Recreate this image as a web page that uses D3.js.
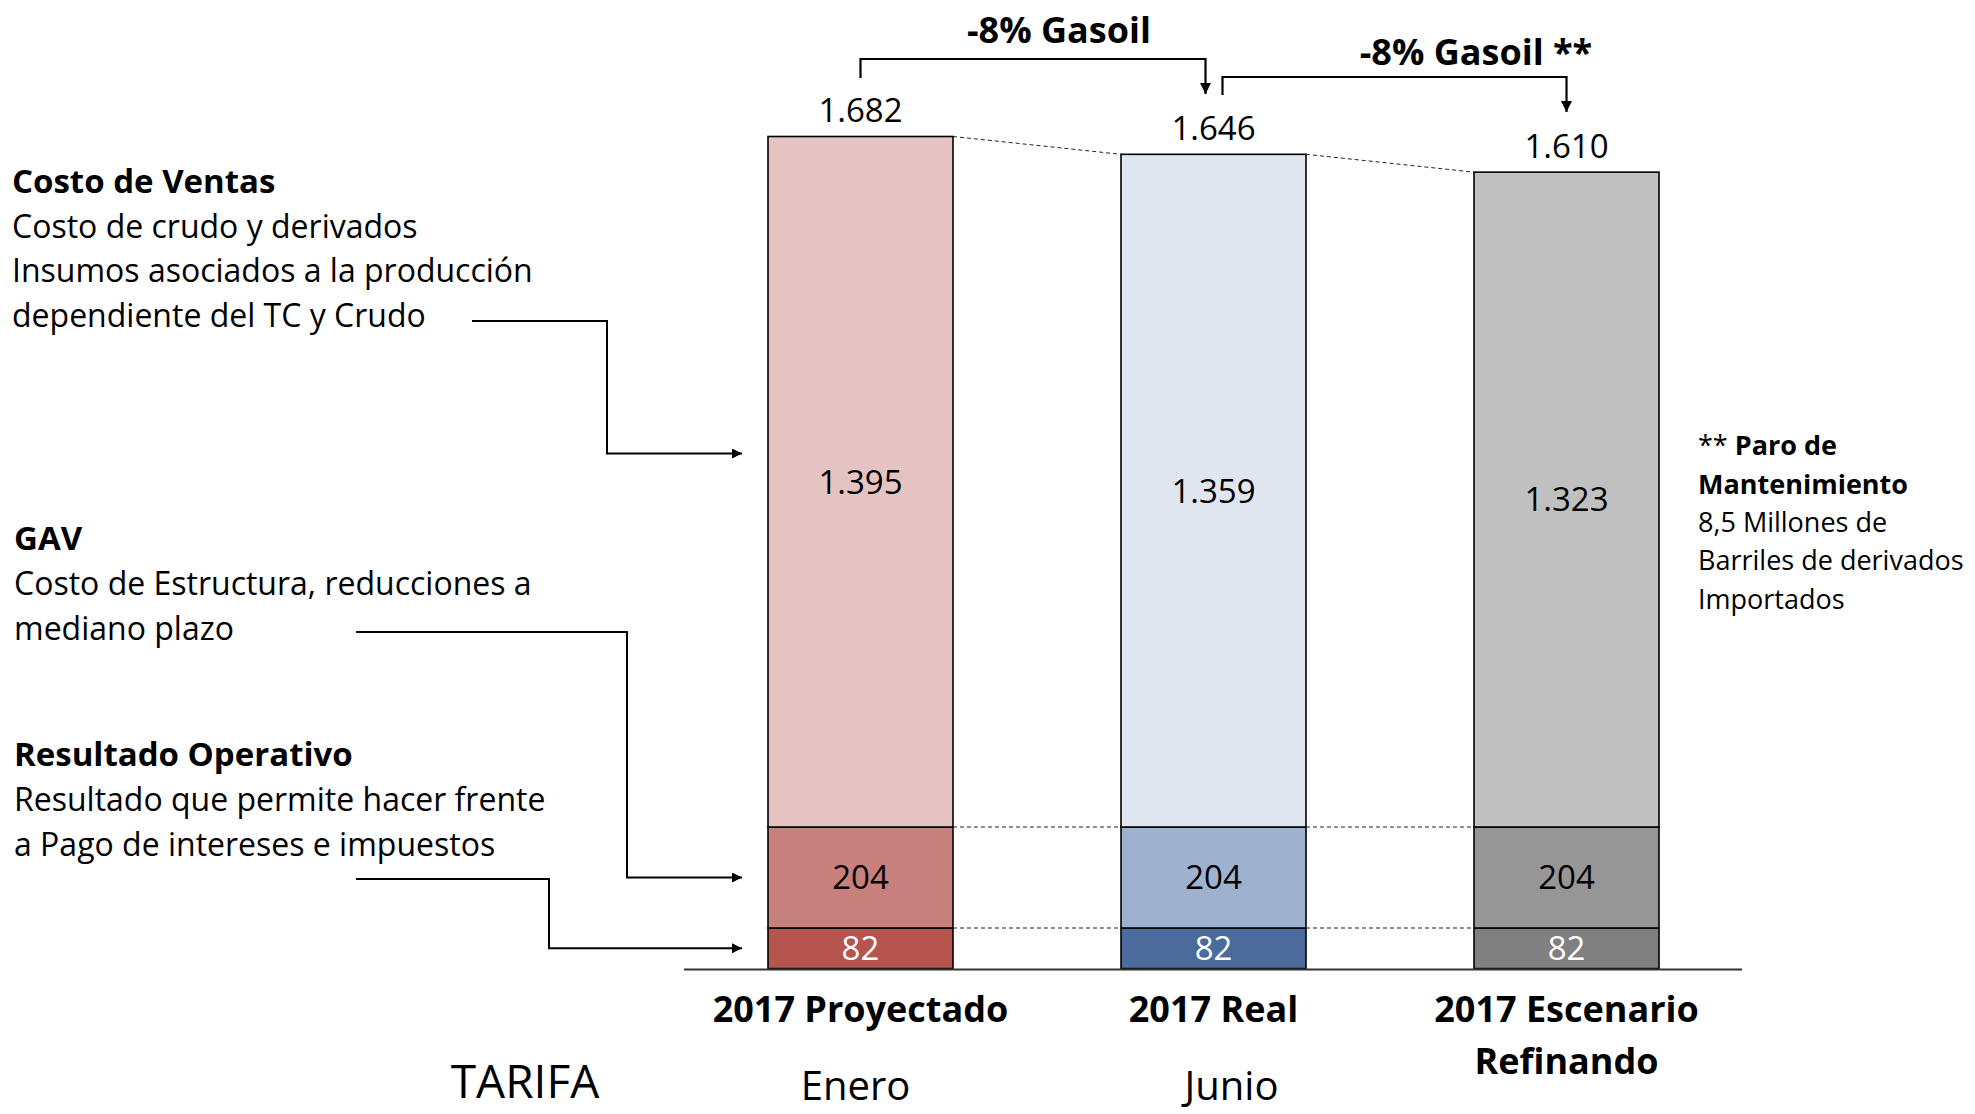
<!DOCTYPE html>
<html>
<head>
<meta charset="utf-8">
<script src="https://cdn.jsdelivr.net/npm/d3@7"></script>
<style>
  body { margin: 0; background: #fff; }
  text { font-family: "Open Sans", sans-serif; fill: #000; }
</style>
</head>
<body>
<div id="chart"></div>
<script>
// chart values
const categories = ["2017 Proyectado", "2017 Real", "2017 Escenario Refinando"];
const costoVentas = [1395, 1359, 1323];
const gav = [204, 204, 204];
const resultado = [82, 82, 82];
const totals = ["1.682", "1.646", "1.610"];
const subLabels = ["Enero", "Junio", ""];
const topColors = ["#e5c3c2", "#dfe6f0", "#c0c0c0"];
const midColors = ["#c8807c", "#9eb1ce", "#969696"];
const lowColors = ["#b5554e", "#4a6b9b", "#808080"];

const width = 1975, height = 1114;
const svg = d3.select('#chart').append('svg')
  .attr('width', width)
  .attr('height', height);

const defs = svg.append('defs');
defs.append('marker')
  .attr('id', 'arrow')
  .attr('viewBox', '0 0 10 10')
  .attr('refX', 10).attr('refY', 5)
  .attr('markerWidth', 5).attr('markerHeight', 5)
  .attr('markerUnits', 'strokeWidth')
  .attr('orient', 'auto')
  .append('path').attr('d', 'M0,0 L10,5 L0,10 Z').attr('fill', '#000');

const x = d3.scaleBand().domain(categories).range([768, 1659]).paddingInner(0.476).paddingOuter(0);
const y = d3.scaleLinear().domain([0, 1682]).range([968.6, 136]);

// stack the three layers
const rows = categories.map((c, i) => ({ cat: c, res: resultado[i], gav: gav[i], cv: costoVentas[i] }));
const stack = d3.stack().keys(['res', 'gav', 'cv'])(rows);
const palette = { res: lowColors, gav: midColors, cv: topColors };

stack.forEach(layer => {
  svg.append('g').selectAll('rect')
    .data(layer)
    .enter()
    .append('rect')
    .attr('x', d => x(d.data.cat))
    .attr('y', d => y(d[1]))
    .attr('width', x.bandwidth())
    .attr('height', d => y(d[0]) - y(d[1]))
    .attr('fill', (d, i) => palette[layer.key][i])
    .attr('stroke', '#000')
    .attr('stroke-width', 1.6);

  // segment value labels
  svg.append('g').selectAll('text')
    .data(layer)
    .enter()
    .append('text')
    .attr('x', d => x(d.data.cat) + x.bandwidth() / 2)
    .attr('y', d => (y(d[0]) + y(d[1])) / 2)
    .attr('dy', '0.36em')
    .attr('text-anchor', 'middle')
    .attr('font-size', 33)
    .style('fill', layer.key === 'res' ? '#fff' : '#000')
    .text(d => layer.key === 'cv' ? d3.format(',')(d.data.cv).replace(',', '.') : d.data[layer.key]);
});

// dashed connectors between bars
const dashG = svg.append('g').attr('stroke', '#222').attr('stroke-width', 1).attr('stroke-dasharray', '4,3');
stack.forEach(layer => {
  for (let i = 0; i < categories.length - 1; i++) {
    const a = layer[i], b = layer[i + 1];
    dashG.append('line')
      .attr('x1', x(categories[i]) + x.bandwidth())
      .attr('y1', y(a[1]))
      .attr('x2', x(categories[i + 1]))
      .attr('y2', y(b[1]));
  }
});

// totals above bars
svg.append('g').selectAll('text')
  .data(stack[2])
  .enter()
  .append('text')
  .attr('x', d => x(d.data.cat) + x.bandwidth() / 2)
  .attr('y', d => y(d[1]) - 14)
  .attr('text-anchor', 'middle')
  .attr('font-size', 33)
  .text((d, i) => totals[i]);

// baseline
svg.append('line')
  .attr('x1', 684).attr('x2', 1742)
  .attr('y1', y(0) + 1).attr('y2', y(0) + 1)
  .attr('stroke', '#333').attr('stroke-width', 2);

// category labels
const catLines = [["2017 Proyectado"], ["2017 Real"], ["2017 Escenario", "Refinando"]];
categories.forEach((c, i) => {
  const t = svg.append('text')
    .attr('x', x(c) + x.bandwidth() / 2)
    .attr('y', 1022)
    .attr('text-anchor', 'middle')
    .attr('font-size', 36)
    .attr('font-weight', 'bold');
  catLines[i].forEach((l, j) => {
    t.append('tspan').attr('x', x(c) + x.bandwidth() / 2).attr('dy', j ? 52 : 0).text(l);
  });
  if (subLabels[i]) {
    svg.append('text')
      .attr('x', x(c) + x.bandwidth() / 2 + (i === 1 ? 18 : -5))
      .attr('y', 1100)
      .attr('text-anchor', 'middle')
      .attr('font-size', 40)
      .text(subLabels[i]);
  }
});
svg.append('text').attr('x', 525).attr('y', 1098).attr('text-anchor', 'middle')
  .attr('font-size', 46).text('TARIFA');

// "-8% Gasoil" brackets
const bracket = (x1, yStart, yTop, x2, yEnd) => {
  svg.append('path')
    .attr('d', `M${x1},${yStart} V${yTop} H${x2} V${yEnd}`)
    .attr('fill', 'none').attr('stroke', '#000').attr('stroke-width', 2.2)
    .attr('marker-end', 'url(#arrow)');
};
const c0 = x(categories[0]) + x.bandwidth() / 2;
const c1 = x(categories[1]) + x.bandwidth() / 2;
const c2 = x(categories[2]) + x.bandwidth() / 2;
bracket(c0, 78, 59, c1 - 8, 94);
bracket(c1 + 9, 95, 77, c2, 112);
svg.append('text').attr('x', 1059).attr('y', 43).attr('text-anchor', 'middle')
  .attr('font-size', 36).attr('font-weight', 'bold').text('-8% Gasoil');
svg.append('text').attr('x', 1476).attr('y', 65).attr('text-anchor', 'middle')
  .attr('font-size', 36).attr('font-weight', 'bold').text('-8% Gasoil **');

// left descriptions
const block = (x0, y0, lines, gap) => {
  lines.forEach((l, i) => {
    svg.append('text')
      .attr('x', x0).attr('y', y0 + i * gap)
      .attr('font-size', i === 0 ? 33 : 32)
      .attr('font-weight', i === 0 ? 'bold' : 'normal')
      .text(l);
  });
};
block(12, 193, ["Costo de Ventas", "Costo de crudo y derivados", "Insumos asociados a la producción", "dependiente del TC y  Crudo"], 44.5);
block(14, 550, ["GAV", "Costo de Estructura, reducciones a", "mediano plazo"], 45);
block(14, 766, ["Resultado Operativo", "Resultado que permite hacer frente", "a Pago de intereses e impuestos"], 45);

// elbow arrows from descriptions to bar segments
const elbow = (pts) => {
  svg.append('path')
    .attr('d', d3.line()(pts))
    .attr('fill', 'none').attr('stroke', '#000').attr('stroke-width', 2)
    .attr('marker-end', 'url(#arrow)');
};
elbow([[472, 321], [607, 321], [607, 453.5], [742, 453.5]]);
elbow([[356, 632], [627, 632], [627, y(82 + 204 / 2)], [742, y(82 + 204 / 2)]]);
elbow([[356, 879], [549, 879], [549, y(41)], [742, y(41)]]);

// right note
const note = svg.append('g').attr('font-size', 27);
const n1 = note.append('text').attr('x', 1698).attr('y', 455);
n1.append('tspan').text('** ');
n1.append('tspan').attr('font-weight', 'bold').text('Paro de');
note.append('text').attr('x', 1698).attr('y', 494).attr('font-weight', 'bold').text('Mantenimiento');
["8,5 Millones de", "Barriles de derivados", "Importados"].forEach((l, i) => {
  note.append('text').attr('x', 1698).attr('y', 532 + i * 38.3).text(l);
});
</script>
</body>
</html>
